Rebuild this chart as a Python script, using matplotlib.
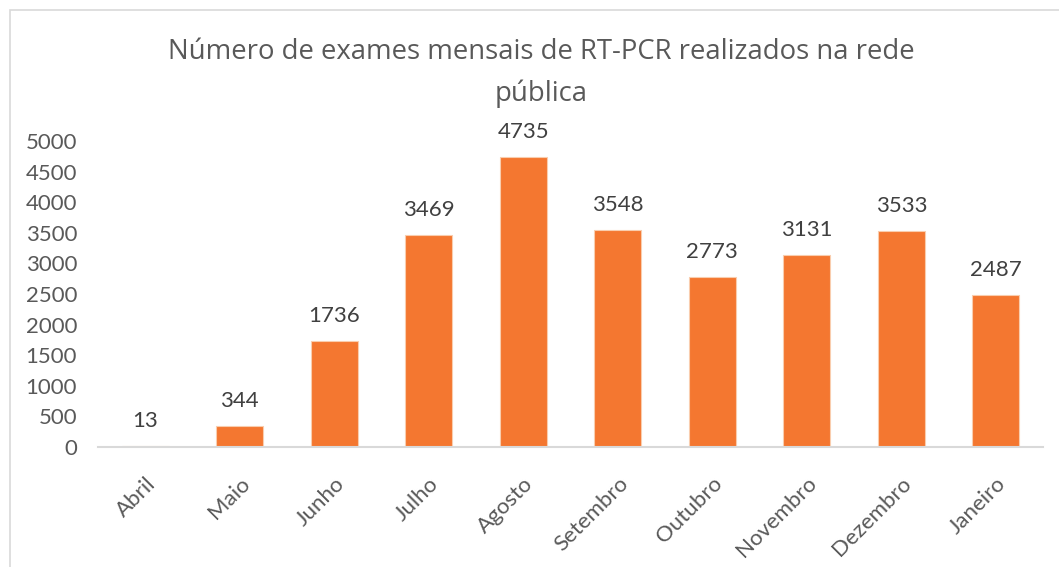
import numpy as np
from matplotlib import pyplot as plt
from matplotlib.patches import Rectangle

meses = ["Abril", "Maio", "Junho", "Julho", "Agosto", "Setembro",
         "Outubro", "Novembro", "Dezembro", "Janeiro"]
exames = [13, 344, 1736, 3469, 4735, 3548, 2773, 3131, 3533, 2487]
y_ticks = list(range(0, 5001, 500))

laranja = "#F47730"
cinza = "#595959"

fig = plt.figure(figsize=(10.59, 5.67), dpi=100)
ax = fig.add_axes([0.0925, 0.2116, 0.8925, 0.5395])

# moldura do gráfico (só esquerda e topo aparecem no recorte)
fig.patches.append(Rectangle((10 / 1059, -0.1), 1.2, (567 - 10) / 567 + 0.1,
                             transform=fig.transFigure, fill=False,
                             edgecolor="#D9D9D9", linewidth=1.2))

x = np.arange(len(meses))
bars = ax.bar(x, exames, width=0.5, color=laranja, edgecolor="#F9CDAE",
              linewidth=0.8)

for xi, v in zip(x, exames):
    ax.annotate(str(v), (xi, v), xytext=(0, 11), textcoords="offset points",
                ha="center", va="bottom", fontsize=16, color="#404040",
                family="Lato", annotation_clip=False)

ax.set_xlim(-0.5, len(meses) - 0.5)
ax.set_ylim(0, 5000)
ax.set_yticks(y_ticks)
ax.set_yticklabels([str(t) for t in y_ticks], fontsize=16, color=cinza,
                   family="Lato")
ax.set_xticks(x)
ax.set_xticklabels(meses, rotation=45, ha="right", rotation_mode="anchor",
                   fontsize=16, color=cinza, family="Lato")
ax.tick_params(axis="both", length=0)
ax.tick_params(axis="y", pad=15)
ax.tick_params(axis="x", pad=19)

for s in ["top", "right", "left"]:
    ax.spines[s].set_visible(False)
ax.spines["bottom"].set_color("#D9D9D9")
ax.spines["bottom"].set_linewidth(1.5)

fig.text(0.511, 0.871, "Número de exames mensais de RT-PCR realizados na rede\npública",
         ha="center", va="center", fontsize=19.8, color=cinza,
         family="Open Sans", linespacing=1.62)

fig.savefig("out.png", dpi=100)
